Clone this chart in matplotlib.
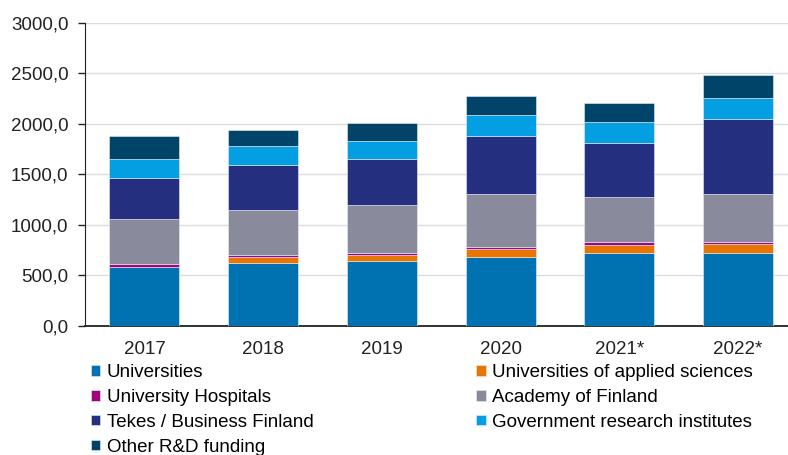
import numpy as np
import matplotlib
matplotlib.use("Agg")
import matplotlib.pyplot as plt

plt.rcParams["font.family"] = ["Liberation Sans", "DejaVu Sans"]

years = ["2017", "2018", "2019", "2020", "2021*", "2022*"]

# R&D funding by recipient
universities = [586, 618, 641, 683, 717, 717]
uas = [0, 62, 59, 79, 79, 95]
hospitals = [22, 20, 20, 20, 33, 17]
academy = [445, 446, 472, 522, 445, 475]
tekes = [409, 445, 462, 571, 538, 745]
gov_institutes = [191, 191, 174, 208, 208, 208]
other = [225, 155, 176, 192, 188, 222]

series = [
    ("Universities", universities, "#0071b1"),
    ("Universities of applied sciences", uas, "#e87503"),
    ("University Hospitals", hospitals, "#a2037f"),
    ("Academy of Finland", academy, "#8a8a9d"),
    ("Tekes / Business Finland", tekes, "#252f80"),
    ("Government research institutes", gov_institutes, "#049fe2"),
    ("Other R&D funding", other, "#00446a"),
]

fig = plt.figure(figsize=(7.88, 4.55), dpi=100)
ax = fig.add_axes([0.108, 0.284, 0.892, 0.666])

x = np.arange(len(years))
bottom = np.zeros(len(years))
handles = {}
for name, vals, col in series:
    vals = np.array(vals, dtype=float)
    h = ax.bar(x, vals, 0.59, bottom=bottom, color=col, edgecolor="#e8eef4",
               linewidth=0.4, zorder=3, label=name)
    handles[name] = h
    bottom += vals

ax.set_xlim(-0.5, 5.42)
ax.set_ylim(0, 3000)
ax.set_yticks(np.arange(0, 3001, 500))
ax.set_yticklabels([f"{v:.1f}".replace(".", ",") for v in np.arange(0, 3001, 500)])
ax.set_xticks(x)
ax.set_xticklabels(years)
ax.tick_params(axis="y", labelsize=13.5, length=5, width=1, pad=7, colors="#222222")
ax.tick_params(axis="x", labelsize=13.5, length=0, pad=11, colors="#222222")
ax.yaxis.grid(True, color="#dcdcdc", linewidth=1, zorder=0)
for s in ("top", "right"):
    ax.spines[s].set_visible(False)
ax.spines["left"].set_color("#222222")
ax.spines["bottom"].set_color("#222222")
ax.spines["bottom"].set_linewidth(1.3)

order = ["Universities", "University Hospitals", "Tekes / Business Finland",
         "Other R&D funding", "Universities of applied sciences",
         "Academy of Finland", "Government research institutes"]
fig.legend([handles[n] for n in order], order, loc="upper left",
           bbox_to_anchor=(0.115, 0.2), ncol=2, frameon=False, fontsize=13.5,
           handlelength=0.5, handleheight=0.5, handletextpad=0.35,
           labelspacing=0.42, columnspacing=8.7, borderaxespad=0, borderpad=0)

fig.savefig("out.png", dpi=100)
